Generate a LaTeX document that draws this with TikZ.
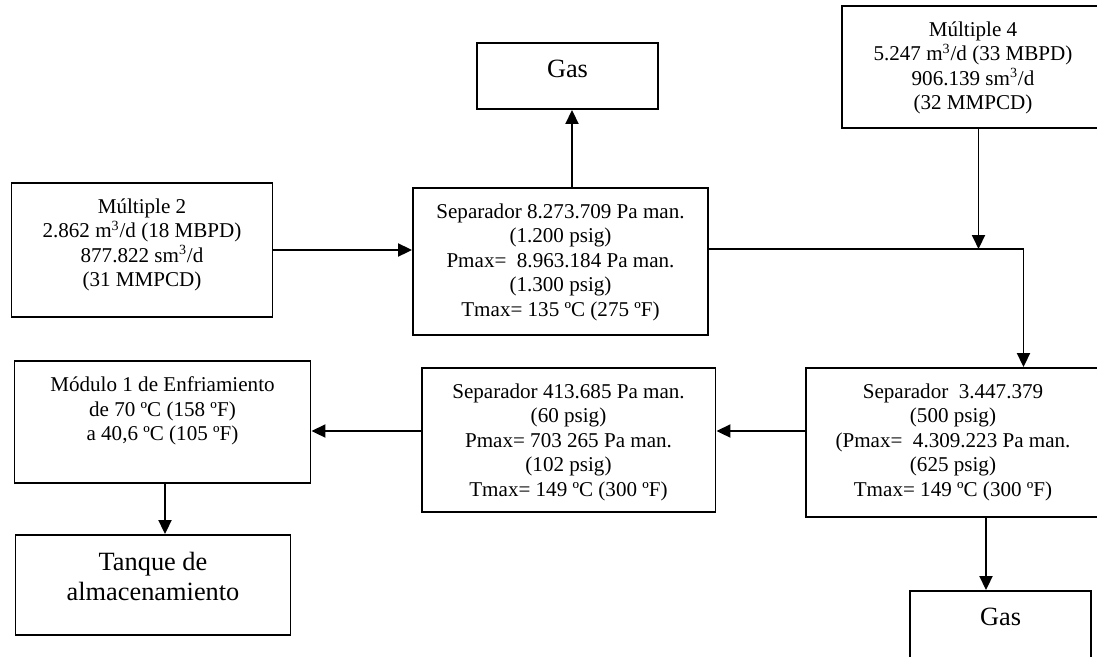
\documentclass[tikz,border=0pt]{standalone}
\usepackage{fontspec}
\setmainfont{Liberation Serif}
\usetikzlibrary{arrows.meta,positioning}

\begin{document}
\begin{tikzpicture}[
  x=0.02cm, y=-0.02cm,
  box/.style={draw, line width=1.1pt, inner sep=0pt},
  txt/.style={align=center, inner sep=0pt, font=\fontsize{12}{13.9}\selectfont},
  bigtxt/.style={align=center, inner sep=0pt, font=\fontsize{15}{17.1}\selectfont},
  arr/.style={-{Triangle[length=2.8mm, width=2.6mm]}, line width=1.1pt}
]
  \clip (0,0) rectangle (1097,656);

  \node (gasA) [box, minimum width=3.62cm, minimum height=1.32cm] at (567.5,76) {};
  \node (m2) [box, minimum width=5.22cm, minimum height=2.68cm] at (142,250) {};
  \node (sep1) [box, minimum width=5.9cm, minimum height=2.94cm] at (560.5,261.5) {};
  \node (m4) [box, minimum width=5.24cm, minimum height=2.44cm] at (973,67) {};
  \node (sep3) [box, minimum width=5.88cm, minimum height=2.98cm] at (953,442.5) {};
  \node (sep2) [box, minimum width=5.88cm, minimum height=2.88cm] at (568.5,440) {};
  \node (mod) [box, minimum width=5.92cm, minimum height=2.44cm] at (162.5,422) {};
  \node (tank) [box, minimum width=5.5cm, minimum height=2cm] at (153,585) {};
  \node (gasB) [box, minimum width=3.62cm, minimum height=1.36cm] at (1000.5,625) {};

  \node (gasAt) [bigtxt, below=0.36cm of gasA.north] {Gas};
  \node (m2t) [txt, below=0.33cm of m2.north] {Múltiple 2\\2.862 m\textsuperscript{3}/d (18 MBPD)\\877.822 sm\textsuperscript{3}/d\\(31 MMPCD)};
  \node (sep1t) [txt, below=0.33cm of sep1.north] {Separador 8.273.709 Pa man.\\(1.200 psig)\\Pmax=\ \ 8.963.184 Pa man.\\(1.300 psig)\\Tmax= 135 ºC (275 ºF)};
  \node (m4t) [txt, below=0.33cm of m4.north] {Múltiple 4\\5.247 m\textsuperscript{3}/d (33 MBPD)\\906.139 sm\textsuperscript{3}/d\\(32 MMPCD)};
  \node (sep3t) [txt, below=0.33cm of sep3.north] {Separador\ \ 3.447.379\\(500 psig)\\(Pmax=\ \ 4.309.223 Pa man.\\(625 psig)\\Tmax= 149 ºC (300 ºF)};
  \node (sep2t) [txt, below=0.33cm of sep2.north] {Separador 413.685 Pa man.\\(60 psig)\\Pmax= 703 265 Pa man.\\(102 psig)\\Tmax= 149 ºC (300 ºF)};
  \node (modt) [txt, below=0.33cm of mod.north] {Módulo 1 de Enfriamiento\\de 70 ºC (158 ºF)\\a 40,6 ºC (105 ºF)};
  \node (tankt) [bigtxt, below=0.36cm of tank.north] {Tanque de\\almacenamiento};
  \node (gasBt) [bigtxt, below=0.36cm of gasB.north] {Gas};

  \coordinate (s1out) at ([yshift=0.25cm]sep1.east);

  \draw[arr] (m2.east) -- (m2.east -| sep1.west);
  \draw[arr] ([xshift=0.23cm]sep1.north) -- ([xshift=0.23cm]sep1.north |- gasA.south);
  \draw[arr] (s1out) -| ([xshift=1.41cm]sep3.north);
  \draw[arr] ([xshift=0.11cm]m4.south) -- ([xshift=0.11cm]m4.south |- s1out);
  \draw[arr] ([yshift=0.23cm]sep3.west) -- ([yshift=0.23cm]sep3.west -| sep2.east);
  \draw[arr] ([yshift=0.18cm]sep2.west) -- ([yshift=0.18cm]sep2.west -| mod.east);
  \draw[arr] ([xshift=0.05cm]mod.south) -- ([xshift=0.05cm]mod.south |- tank.north);
  \draw[arr] ([xshift=0.66cm]sep3.south) -- ([xshift=0.66cm]sep3.south |- gasB.north);
\end{tikzpicture}
\end{document}
